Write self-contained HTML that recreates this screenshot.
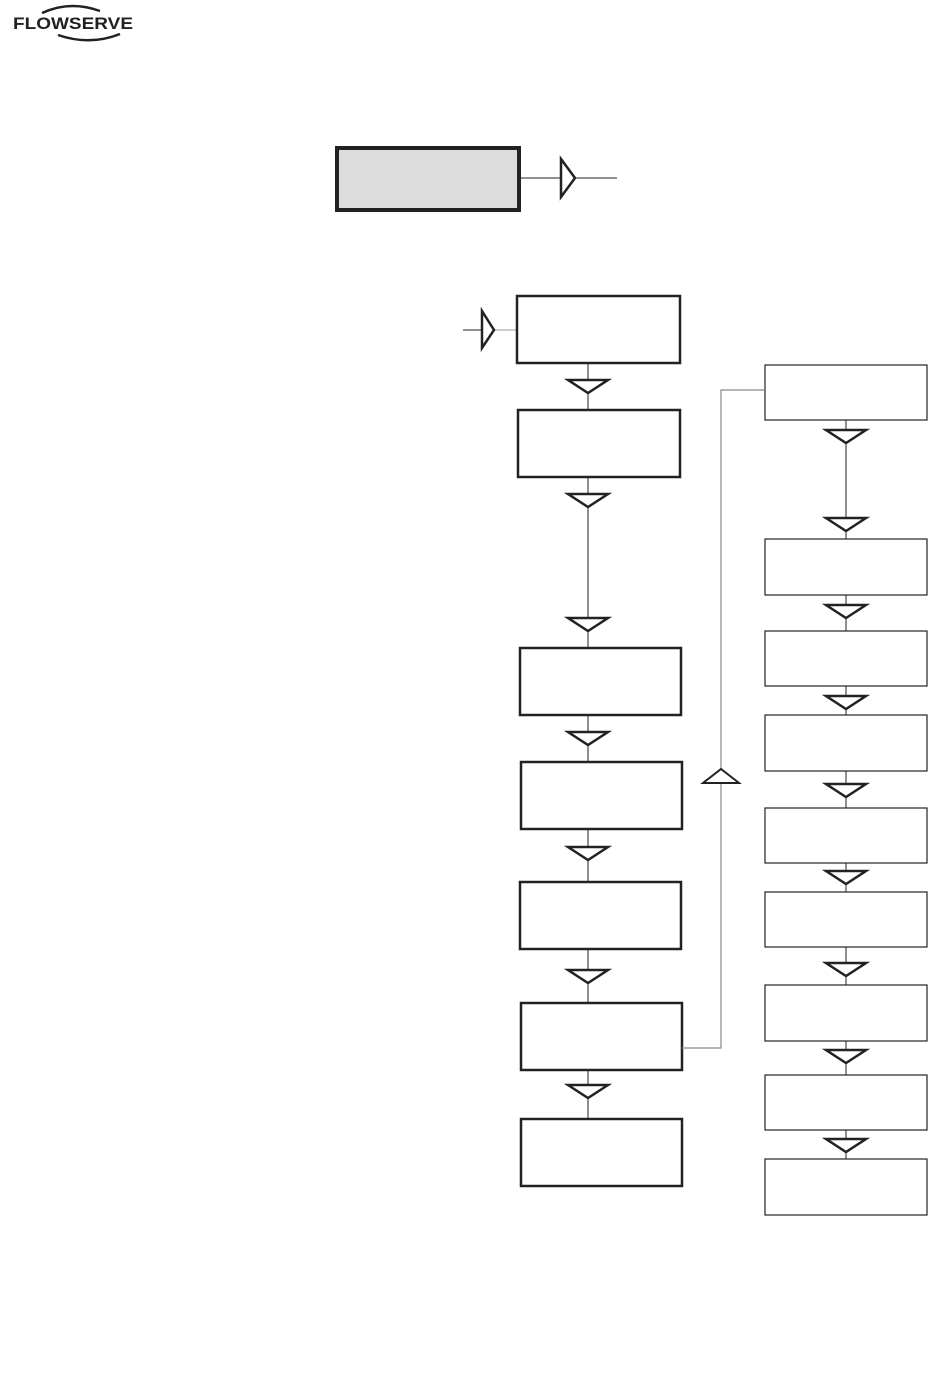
<!DOCTYPE html>
<html><head><style>body{margin:0;background:#fff}svg{display:block}</style></head><body>
<svg width="950" height="1383" xmlns="http://www.w3.org/2000/svg">
<text x="13" y="29" font-family="Liberation Sans, sans-serif" font-weight="bold" font-size="17" fill="#222" textLength="120" lengthAdjust="spacingAndGlyphs">FLOWSERVE</text>
<path d="M42 13 Q70 0 100 11" stroke="#222" stroke-width="2.5" fill="none"/>
<path d="M58 35 Q90 46 120 34" stroke="#222" stroke-width="2.5" fill="none"/>
<g fill="none" stroke="#222">
<rect x="337" y="148" width="182" height="62" fill="#dcdcdc" stroke-width="4"/>
<line x1="520" y1="178" x2="560" y2="178" stroke-width="1"/>
<line x1="574" y1="178" x2="617" y2="178" stroke-width="1"/>
<polygon points="561,159 575,178 561,197" stroke-width="2.5" fill="#fff"/>
<line x1="463" y1="330" x2="482" y2="330"/>
<line x1="494" y1="330" x2="517" y2="330" stroke="#999"/>
<polygon points="482,311 494,330 482,348" stroke-width="2.5" fill="#fff"/>
<g stroke-width="1">
<line x1="588" y1="363" x2="588" y2="410"/>
<line x1="588" y1="477" x2="588" y2="648"/>
<line x1="588" y1="715" x2="588" y2="762"/>
<line x1="588" y1="829" x2="588" y2="882"/>
<line x1="588" y1="949" x2="588" y2="1003"/>
<line x1="588" y1="1070" x2="588" y2="1119"/>
<line x1="846" y1="420" x2="846" y2="1159"/>
</g>
<g stroke-width="2.5" fill="#fff">
<rect x="517" y="296" width="163" height="67"/>
<rect x="518" y="410" width="162" height="67"/>
<rect x="520" y="648" width="161" height="67"/>
<rect x="521" y="762" width="161" height="67"/>
<rect x="520" y="882" width="161" height="67"/>
<rect x="521" y="1003" width="161" height="67"/>
<rect x="521" y="1119" width="161" height="67"/>
</g>
<g stroke-width="2.5" fill="#fff">
<polygon points="568,380 608,380 588,393"/>
<polygon points="568,494 608,494 588,507"/>
<polygon points="568,618 608,618 588,631"/>
<polygon points="568,732 608,732 588,745"/>
<polygon points="568,847 608,847 588,860"/>
<polygon points="568,970 608,970 588,983"/>
<polygon points="568,1085 608,1085 588,1098"/>
</g>
<g stroke-width="1.2" fill="#fff">
<rect x="765" y="365" width="162" height="55"/>
<rect x="765" y="539" width="162" height="56"/>
<rect x="765" y="631" width="162" height="55"/>
<rect x="765" y="715" width="162" height="56"/>
<rect x="765" y="808" width="162" height="55"/>
<rect x="765" y="892" width="162" height="55"/>
<rect x="765" y="985" width="162" height="56"/>
<rect x="765" y="1075" width="162" height="55"/>
<rect x="765" y="1159" width="162" height="56"/>
</g>
<g stroke-width="2.5" fill="#fff">
<polygon points="826,430 866,430 846,443"/>
<polygon points="826,518 866,518 846,531"/>
<polygon points="826,605 866,605 846,618"/>
<polygon points="826,696 866,696 846,709"/>
<polygon points="826,784 866,784 846,797"/>
<polygon points="826,871 866,871 846,884"/>
<polygon points="826,963 866,963 846,976"/>
<polygon points="826,1050 866,1050 846,1063"/>
<polygon points="826,1139 866,1139 846,1152"/>
</g>
<polyline points="682,1048 721,1048 721,390 765,390" stroke="#888" stroke-width="1.2"/>
<polygon points="703,783 739,783 721,769" stroke-width="2" fill="#fff"/>
</g>
</svg>
</body></html>
